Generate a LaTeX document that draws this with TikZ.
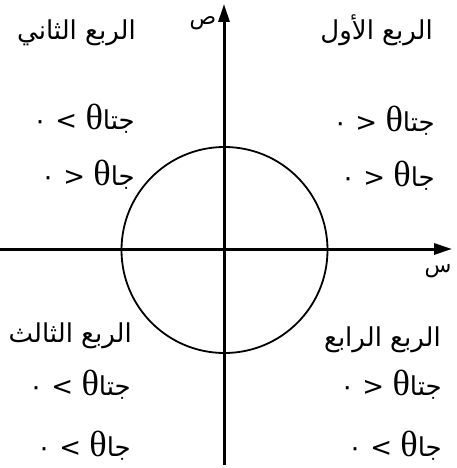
\documentclass[tikz,border=0pt]{standalone}
\usepackage{fontspec}
\usetikzlibrary{arrows.meta}
\TeXXeTstate=1
\newfontfamily\arabicfont[Script=Arabic]{DejaVu Sans}
\newfontfamily\greekfont[Scale=1.4]{Liberation Serif}
\tikzset{
  axis/.style={line width=3pt, -{Triangle[length=18pt,width=11pt]}},
  unitcircle/.style={line width=1.8pt},
  quadtitle/.style={anchor=east, inner sep=0pt, font=\arabicfont\fontsize{26}{30}\selectfont},
  signline/.style={anchor=east, inner sep=0pt, font=\arabicfont\fontsize{26}{30}\selectfont},
  axislabel/.style={anchor=base, inner sep=0pt, font=\arabicfont\fontsize{22}{24}\selectfont}
}
\begin{document}
\begin{tikzpicture}[x=1pt, y=-1pt]
  \useasboundingbox (0,0) rectangle (456,468);
  % axes
  \coordinate (xl) at (0,249);
  \coordinate (xr) at (452,249);
  \coordinate (yb) at (224,465);
  \coordinate (yt) at (224,4);
  \coordinate (o) at (224.5,250);
  \draw[axis] (xl) -- (xr);
  \draw[axis] (yb) -- (yt);
  \node[axislabel] (xlab) at (438,272) {س};
  \node[axislabel] (ylab) at (203,25) {ص};
  % circle
  \draw[unitcircle] (o) circle (103);
  % quadrant I
  \node[quadtitle] (q1) at (433,30) {\beginR الربع الأول\endR};
  \node[signline] (q1c) at (435,121) {\beginR جتا{\greekfont θ} < ٠\endR};
  \node[signline] (q1s) at (435,176) {\beginR جا{\greekfont θ} < ٠\endR};
  % quadrant II
  \node[quadtitle] (q2) at (136,33) {\beginR الربع الثاني\endR};
  \node[signline] (q2c) at (135,119) {\beginR جتا{\greekfont θ} > ٠\endR};
  \node[signline] (q2s) at (135,175) {\beginR جا{\greekfont θ} < ٠\endR};
  % quadrant III
  \node[quadtitle] (q3) at (132,336) {\beginR الربع الثالث\endR};
  \node[signline] (q3c) at (131,385) {\beginR جتا{\greekfont θ} > ٠\endR};
  \node[signline] (q3s) at (131,446) {\beginR جا{\greekfont θ} > ٠\endR};
  % quadrant IV
  \node[quadtitle] (q4) at (441,340) {\beginR الربع الرابع\endR};
  \node[signline] (q4c) at (442,385) {\beginR جتا{\greekfont θ} < ٠\endR};
  \node[signline] (q4s) at (442,446) {\beginR جا{\greekfont θ} > ٠\endR};
\end{tikzpicture}
\end{document}
